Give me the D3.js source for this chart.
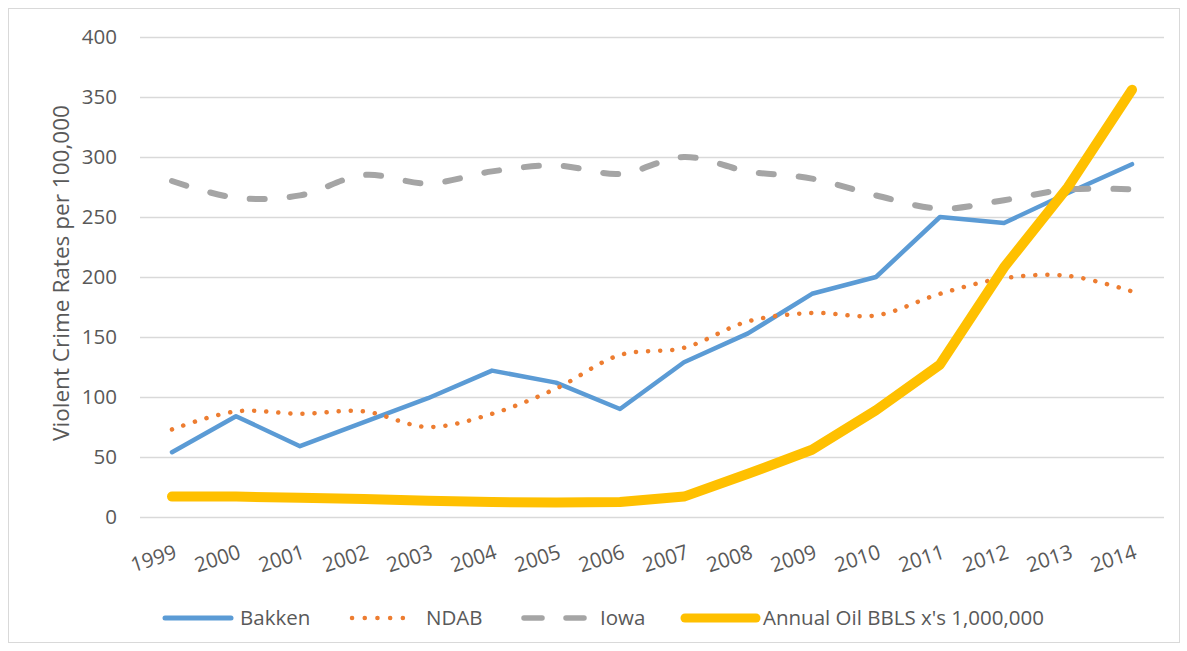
<!DOCTYPE html>
<html>
<head>
<meta charset="utf-8">
<script src="https://cdn.jsdelivr.net/npm/d3@7"></script>
<style>
  body { margin: 0; background: #fff; }
  text { font-family: "Open Sans", "Noto Sans", sans-serif; fill: #595959; }
</style>
</head>
<body>
<svg width="1187" height="651"></svg>
<script>
// chart values
const years = ["1999","2000","2001","2002","2003","2004","2005","2006","2007","2008","2009","2010","2011","2012","2013","2014"];
const bakken = [54, 84, 59, 79, 99, 122, 112, 90, 129, 153, 186, 200, 250, 245, 270, 294];
const ndab = [73, 88, 86, 88, 75, 86, 107, 135, 141, 163, 170, 168, 186, 199, 201, 188];
const iowa = [280, 266, 268, 285, 278, 288, 293, 286, 300, 288, 282, 268, 257, 264, 273, 273];
const oil = [17, 17, 16, 15, 13.5, 12.5, 12, 12.5, 17, 36, 56, 89, 127, 208, 275, 356];
const yTicks = [0, 50, 100, 150, 200, 250, 300, 350, 400];

const svg = d3.select("svg");
const margin = {top: 37, right: 23, bottom: 134, left: 140};
const width = +svg.attr("width") - margin.left - margin.right;
const height = +svg.attr("height") - margin.top - margin.bottom;

// outer chart border
svg.append("rect")
  .attr("x", 8.5).attr("y", 8.5)
  .attr("width", 1171).attr("height", 634)
  .attr("fill", "none")
  .attr("stroke", "#d9d9d9");

const g = svg.append("g").attr("transform", `translate(${margin.left},${margin.top})`);

const x = d3.scaleBand().domain(years).range([0, width]);
const y = d3.scaleLinear().domain([0, 400]).range([height, 0]);
const cx = d => x(d) + x.bandwidth() / 2;

// gridlines
g.append("g")
  .call(d3.axisLeft(y).tickValues(yTicks).tickSize(-width).tickFormat(""))
  .call(a => a.select(".domain").remove())
  .selectAll("line")
  .attr("stroke", "#d9d9d9")
  .attr("stroke-width", 1.3);

// y tick labels
g.append("g")
  .call(d3.axisLeft(y).tickValues(yTicks).tickSize(0).tickPadding(23))
  .call(a => a.select(".domain").remove())
  .selectAll("text")
  .style("font-size", "20.5px");

// x tick labels, rotated
g.append("g")
  .attr("transform", `translate(0,${height})`)
  .call(d3.axisBottom(x).tickSize(0).tickFormat(d => d))
  .call(a => a.select(".domain").remove())
  .selectAll("text")
  .style("font-size", "20.5px")
  .attr("text-anchor", "end")
  .attr("dy", 0)
  .attr("y", 0)
  .attr("transform", "translate(6,41) rotate(-18)");

// y axis title
svg.append("text")
  .attr("transform", `translate(69,${margin.top + height / 2 - 4}) rotate(-90)`)
  .attr("text-anchor", "middle")
  .attr("textLength", 336)
  .attr("lengthAdjust", "spacingAndGlyphs")
  .style("font-size", "21px")
  .text("Violent Crime Rates per 100,000");

const series = [
  {name: "Bakken", values: bakken, color: "#5b9bd5", width: 4.5, dash: null, curve: d3.curveLinear},
  {name: "NDAB", values: ndab, color: "#ed7d31", width: 4.5, dash: "0.1 12", curve: d3.curveCatmullRom},
  {name: "Iowa", values: iowa, color: "#a5a5a5", width: 6, dash: "15 25", curve: d3.curveCatmullRom},
  {name: "Annual Oil BBLS x's 1,000,000", values: oil, color: "#ffc000", width: 10, dash: null, curve: d3.curveLinear}
];

series.forEach(s => {
  const line = d3.line()
    .x((d, i) => cx(years[i]))
    .y(d => y(d))
    .curve(s.curve);
  g.append("path")
    .datum(s.values)
    .attr("fill", "none")
    .attr("stroke", s.color)
    .attr("stroke-width", s.width)
    .attr("stroke-linejoin", "round")
    .attr("stroke-linecap", "round")
    .attr("stroke-dasharray", s.dash)
    .attr("d", line);
});

// legend
const legendX = [163, 350, 522, 683];
const legendLen = [70, 63, 65, 75];
const legendTextX = [240, 426, 600, 763];
const legendDash = [null, "0.1 12.6", "18 24", null];
const legendWidth = [5, 4.5, 5.5, 9];
const legend = svg.append("g").attr("transform", "translate(0,618)");
series.forEach((s, i) => {
  legend.append("line")
    .attr("x1", legendX[i] + 2).attr("x2", legendX[i] + legendLen[i] - 2)
    .attr("stroke", s.color)
    .attr("stroke-width", legendWidth[i])
    .attr("stroke-linecap", "round")
    .attr("stroke-dasharray", legendDash[i]);
  legend.append("text")
    .attr("x", legendTextX[i])
    .attr("dy", "0.35em")
    .style("font-size", "20.5px")
    .text(s.name);
});
</script>
</body>
</html>
